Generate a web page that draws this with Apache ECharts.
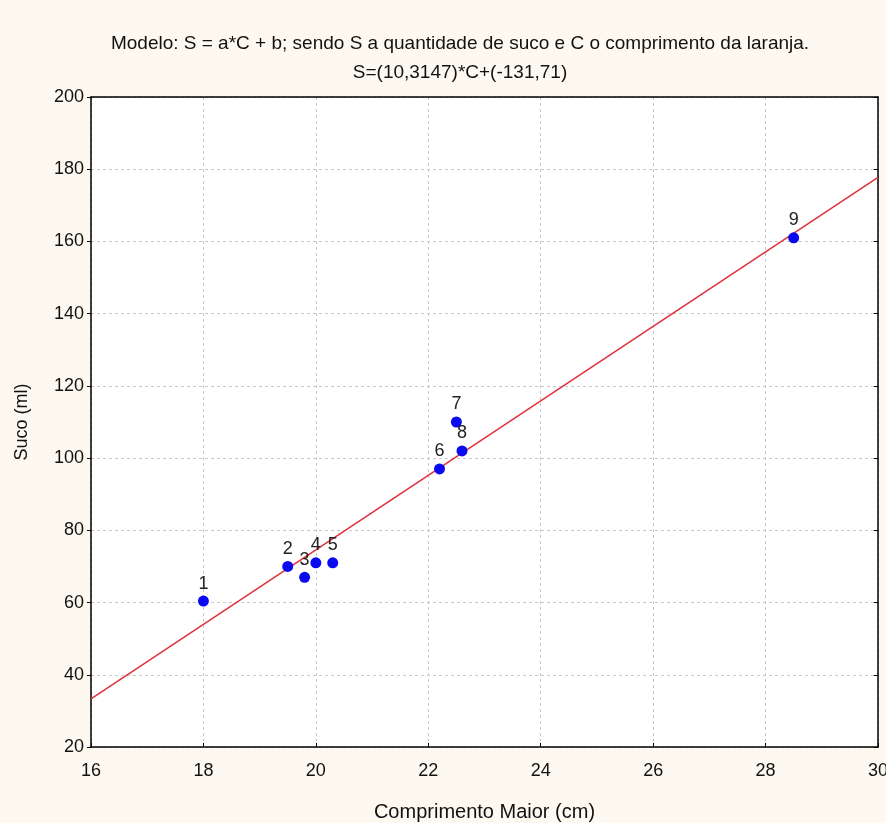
<!DOCTYPE html>
<html>
<head>
<meta charset="utf-8">
<script src="https://cdn.jsdelivr.net/npm/echarts@6/dist/echarts.min.js"></script>
<style>
html,body{margin:0;padding:0;background:#fdf9f0;}
#c{width:886px;height:823px;}
</style>
</head>
<body>
<div id="c"></div>
<script>
const pointLabels = ['1','2','3','4','5','6','7','8','9'];
const comprimento = [18.0, 19.5, 19.8, 20.0, 20.3, 22.2, 22.5, 22.6, 28.5];
const suco = [60.4, 70, 67, 71, 71, 97, 110, 102, 161];
const fitX = [16, 30];
const fitY = [33.33, 177.73];
const xTicks = [16, 18, 20, 22, 24, 26, 28, 30];
const yTicks = [20, 40, 60, 80, 100, 120, 140, 160, 180, 200];

const chart = echarts.init(document.getElementById('c'));
const font = '"Liberation Sans", Arial, sans-serif';
const frameAxis = {show: true, lineStyle: {color: '#000', width: 1.5}};
chart.setOption({
  backgroundColor: '#fdf9f0',
  animation: false,
  title: [
    {text: 'Modelo: S = a*C + b; sendo S a quantidade de suco e C o comprimento da laranja.', left: 455, top: 29, textAlign: 'center',
     textStyle: {fontFamily: font, fontSize: 19, fontWeight: 'normal', color: '#111'}},
    {text: 'S=(10,3147)*C+(-131,71)', left: 455, top: 58, textAlign: 'center',
     textStyle: {fontFamily: font, fontSize: 19, fontWeight: 'normal', color: '#111'}}
  ],
  grid: {left: 91, right: 8, top: 97, bottom: 76, show: true, backgroundColor: '#ffffff', borderWidth: 0, outerBoundsMode: 'none', containLabel: false},
  xAxis: [{
    type: 'value', min: xTicks[0], max: xTicks[xTicks.length-1], interval: 2,
    name: 'Comprimento Maior (cm)', nameLocation: 'middle', nameGap: 55,
    nameTextStyle: {fontFamily: font, fontSize: 20, color: '#111'},
    axisLine: frameAxis,
    axisTick: {show: true, inside: true, length: 4, lineStyle: {color: '#000'}},
    axisLabel: {fontFamily: font, fontSize: 18, color: '#111', margin: 15},
    splitLine: {show: true, lineStyle: {color: '#c8c8c8', type: [3, 3], width: 1}}
  }, {
    type: 'value', position: 'top', min: xTicks[0], max: xTicks[xTicks.length-1], interval: 2,
    axisLine: frameAxis, axisTick: {show: false}, axisLabel: {show: false}, splitLine: {show: false}
  }],
  yAxis: [{
    type: 'value', min: yTicks[0], max: yTicks[yTicks.length-1], interval: 20,
    name: 'Suco (ml)', nameLocation: 'middle', nameGap: 60,
    nameTextStyle: {fontFamily: font, fontSize: 18, color: '#111'},
    axisLine: frameAxis,
    axisTick: {show: true, length: 4, lineStyle: {color: '#000'}},
    axisLabel: {fontFamily: font, fontSize: 18, color: '#111', margin: 7},
    splitLine: {show: true, lineStyle: {color: '#c8c8c8', type: [3, 3], width: 1}}
  }, {
    type: 'value', position: 'right', min: yTicks[0], max: yTicks[yTicks.length-1], interval: 20,
    axisLine: frameAxis, axisTick: {show: true, inside: true, length: 4, lineStyle: {color: '#000'}}, axisLabel: {show: false}, splitLine: {show: false}
  }],
  series: [
    {
      type: 'line', data: fitX.map((x, i) => [x, fitY[i]]), symbol: 'none',
      lineStyle: {color: '#e0303a', width: 1.5}, z: 2, silent: true
    },
    {
      type: 'scatter', data: comprimento.map((x, i) => [x, suco[i], pointLabels[i]]),
      symbolSize: 11, itemStyle: {color: '#0a0af0', opacity: 1}, z: 3,
      label: {show: true, position: 'top', distance: 3, formatter: p => p.data[2],
        fontFamily: font, fontSize: 18, color: '#222'}
    }
  ]
});
</script>
</body>
</html>
